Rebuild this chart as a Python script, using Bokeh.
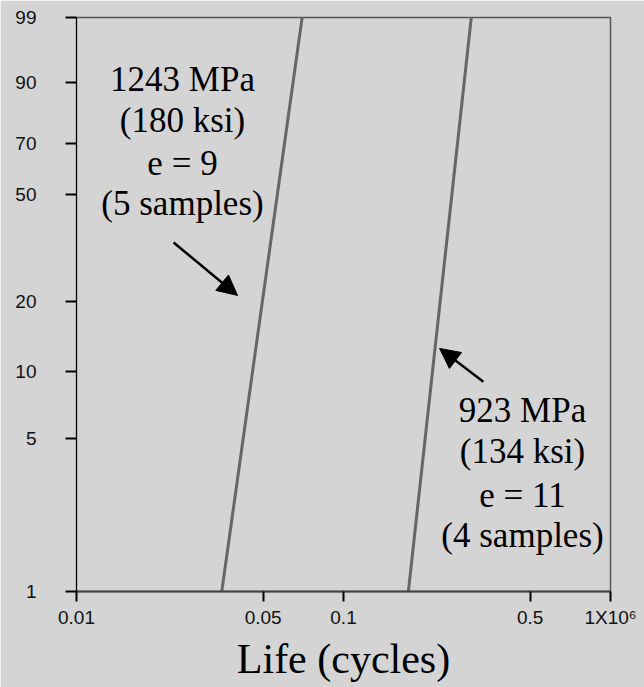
import numpy as np
from bokeh.plotting import figure
from bokeh.models import Range1d, FixedTicker, Arrow, NormalHead, Label
from bokeh.embed import file_html
from bokeh.resources import INLINE

# ---- data ----
probability_ticks = [1, 5, 10, 20, 50, 70, 90, 99]      # percent failed (Weibull scale)
life_ticks = [0.01, 0.05, 0.1, 0.5, 1.0]                # life, 10^6 cycles
life_tick_labels = ["0.01", "0.05", "0.1", "0.5", "1X10\u2076"]
x_title = "Life (cycles)"

# Weibull lines: life at 1 % and 99 % failed
hi_stress_percent = [1, 99]
hi_stress_life = [0.035, 0.070]
lo_stress_percent = [1, 99]
lo_stress_life = [0.175, 0.301]

hi_stress_text = ["1243 MPa", "(180 ksi)", "e = 9", "(5 samples)"]
lo_stress_text = ["923 MPa", "(134 ksi)", "e = 11", "(4 samples)"]

# arrows (life, percent) : start -> end
arrow_hi_life = [0.0231, 0.0401]
arrow_hi_percent = [34.1, 21.1]
arrow_lo_life = [0.334, 0.229]
arrow_lo_percent = [9.0, 12.6]


def wb(p):
    p = np.asarray(p, dtype=float)
    return np.log(-np.log(1.0 - p / 100.0))


BG = "#d4d4d4"
p = figure(width=644, height=687, x_axis_type="log",
           x_range=Range1d(0.01, 1.0),
           y_range=Range1d(float(wb(1)), float(wb(99))),
           output_backend="svg", toolbar_location=None,
           min_border_left=76, min_border_right=34,
           min_border_top=17, min_border_bottom=96)
p.background_fill_color = BG
p.border_fill_color = BG
p.outline_line_color = "#555555"
p.outline_line_width = 1.5
p.grid.visible = False

# y axis (Weibull probability scale)
yt = [float(v) for v in wb(probability_ticks)]
p.yaxis.ticker = FixedTicker(ticks=yt)
p.yaxis.major_label_overrides = {v: str(t) for v, t in zip(yt, probability_ticks)}
p.yaxis.axis_line_color = "black"
p.yaxis.axis_line_width = 1
p.yaxis.major_tick_line_color = "black"
p.yaxis.major_tick_line_width = 2
p.yaxis.major_tick_in = 0
p.yaxis.major_tick_out = 11
p.yaxis.minor_tick_line_color = None
p.yaxis.major_label_standoff = 29
p.yaxis.major_label_text_font = "Liberation Sans"
p.yaxis.major_label_text_font_size = "19px"
p.yaxis.major_label_text_color = "#111111"

# x axis (log life)
p.xaxis.ticker = FixedTicker(ticks=life_ticks)
p.xaxis.major_label_overrides = {float(v): s for v, s in zip(life_ticks, life_tick_labels)}
p.xaxis.axis_line_color = "#444444"
p.xaxis.axis_line_width = 2
p.xaxis.major_tick_line_color = "black"
p.xaxis.major_tick_line_width = 2
p.xaxis.major_tick_in = 0
p.xaxis.major_tick_out = 10
p.xaxis.minor_tick_line_color = None
p.xaxis.major_label_standoff = 5
p.xaxis.major_label_text_font = "Liberation Sans"
p.xaxis.major_label_text_font_size = "19px"
p.xaxis.major_label_text_color = "#111111"
p.xaxis.axis_label = x_title
p.xaxis.axis_label_text_font = "Liberation Serif"
p.xaxis.axis_label_text_font_style = "normal"
p.xaxis.axis_label_text_font_size = "42px"
p.xaxis.axis_label_text_color = "black"
p.xaxis.axis_label_standoff = 5

# Weibull lines
p.line(hi_stress_life, wb(hi_stress_percent), line_color="#666666", line_width=3)
p.line(lo_stress_life, wb(lo_stress_percent), line_color="#666666", line_width=3)

# arrows
for lf, pc in ((arrow_hi_life, arrow_hi_percent), (arrow_lo_life, arrow_lo_percent)):
    yy = wb(pc)
    p.add_layout(Arrow(end=NormalHead(size=20, fill_color="black", line_color="black"),
                       x_start=lf[0], y_start=float(yy[0]),
                       x_end=lf[1], y_end=float(yy[1]),
                       line_color="black", line_width=2.5))

# annotation texts (screen units relative to plot frame)
hi_x, hi_y = 106, [512, 471, 428, 388]
lo_x, lo_y = 446, [181, 140, 96, 56]
for txts, x0, ys in ((hi_stress_text, hi_x, hi_y), (lo_stress_text, lo_x, lo_y)):
    for t, yy in zip(txts, ys):
        p.add_layout(Label(x=x0, y=yy, x_units="screen", y_units="screen", text=t,
                           text_align="center", text_baseline="alphabetic",
                           text_font="Liberation Serif", text_font_size="35px",
                           text_color="black"))

open("out.html", "w").write(file_html(p, INLINE))
